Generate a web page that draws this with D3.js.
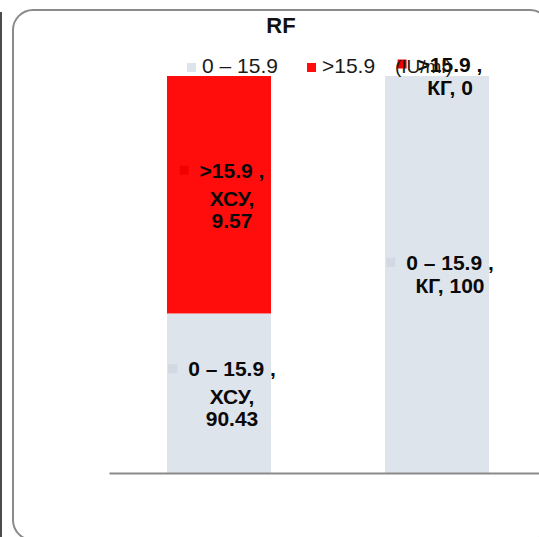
<!DOCTYPE html>
<html>
<head>
<meta charset="utf-8">
<script src="https://cdn.jsdelivr.net/npm/d3@7"></script>
<style>
  body { margin: 0; background: #fff; }
  svg { display: block; font-family: "Liberation Sans", Arial, sans-serif; }
</style>
</head>
<body>
<script>
// chart data
const groups = ["ХСУ", "КГ"];
const seriesNames = ["0 – 15.9", ">15.9"];
const lowValues = [90.43, 100];
const highValues = [9.57, 0];
const yDomain = [84, 100];
const title = "RF";
const unitLabel = "(IU/ml)";

const colors = ["#dee4ec", "#ff0c0c"];
const keyColors = ["#d3d9e2", "#f20000"]; // label keys, a touch darker so they show on the bar

const width = 539, height = 537;
const svg = d3.select("body").append("svg").attr("width", width).attr("height", height);

// frame
svg.append("line").attr("x1", 1).attr("x2", 1).attr("y1", 12).attr("y2", height)
  .attr("stroke", "#111").attr("stroke-width", 1.5);
svg.append("rect").attr("x", 13).attr("y", 10).attr("width", 537).attr("height", 530)
  .attr("rx", 20).attr("fill", "none").attr("stroke", "#8a8a8a").attr("stroke-width", 2);

// scales
const x = d3.scaleBand().domain(groups).range([109, 547]).paddingInner(0.523).paddingOuter(0.266);
const y = d3.scaleLinear().domain(yDomain).range([473, 76]).clamp(true);

const rows = groups.map((g, i) => ({group: g, low: lowValues[i], high: highValues[i]}));
const stacked = d3.stack().keys(["low", "high"])(rows);

// bars
svg.append("g").selectAll("g").data(stacked).join("g")
  .attr("fill", (d, i) => colors[i])
  .selectAll("rect").data(d => d).join("rect")
  .attr("x", d => x(d.data.group))
  .attr("width", x.bandwidth())
  .attr("y", d => y(d[1]))
  .attr("height", d => y(d[0]) - y(d[1]));

// axis line
const axis = svg.append("g").attr("transform", "translate(0,473)")
  .call(d3.axisBottom(x).tickSize(0).tickFormat(""));
axis.select(".domain").attr("stroke", "#8a8a8a").attr("stroke-width", 2);

// title
svg.append("text").attr("x", 281).attr("y", 33).attr("text-anchor", "middle")
  .attr("font-size", 22).attr("font-weight", "bold").attr("fill", "#111").text(title);

// legend
const legendX = [187, 307];
seriesNames.forEach((s, i) => {
  svg.append("rect").attr("x", legendX[i]).attr("y", 63).attr("width", 9).attr("height", 9)
    .attr("fill", colors[i]);
  svg.append("text").attr("x", legendX[i] + 15).attr("y", 73).attr("font-size", 21)
    .attr("fill", "#1a1a1a").text(s);
});

// data labels
const labelLayer = svg.append("g");
stacked.forEach((layer, si) => {
  layer.forEach(d => {
    const cx = x(d.data.group) + x.bandwidth() / 2 + 13;
    const cy = (y(d[0]) + y(d[1])) / 2;
    const rest = d.data.group + ", " + d.data[layer.key];
    const lines = rest.length > 8
      ? [seriesNames[si] + " ,", d.data.group + ",", String(d.data[layer.key])]
      : [seriesNames[si] + " ,", rest];
    const offsets = lines.length === 3 ? [-17, 11, 33] : [-4.5, 18.5];
    const g = labelLayer.append("g");
    let firstLen = 0;
    lines.forEach((t, li) => {
      const el = g.append("text").attr("x", cx).attr("y", cy + offsets[li])
        .attr("text-anchor", "middle").attr("font-size", 21).attr("font-weight", "bold")
        .attr("fill", "#0a0a0a").text(t);
      if (li === 0) firstLen = el.node().getComputedTextLength();
    });
    g.insert("rect", "text")
      .attr("x", cx - firstLen / 2 - 20).attr("y", cy + offsets[0] - 12)
      .attr("width", 9).attr("height", 9).attr("fill", keyColors[si]);
  });
});

// unit label
svg.append("text").attr("x", 395).attr("y", 73).attr("font-size", 19)
  .attr("fill", "#1a1a1a").text(unitLabel);
</script>
</body>
</html>
